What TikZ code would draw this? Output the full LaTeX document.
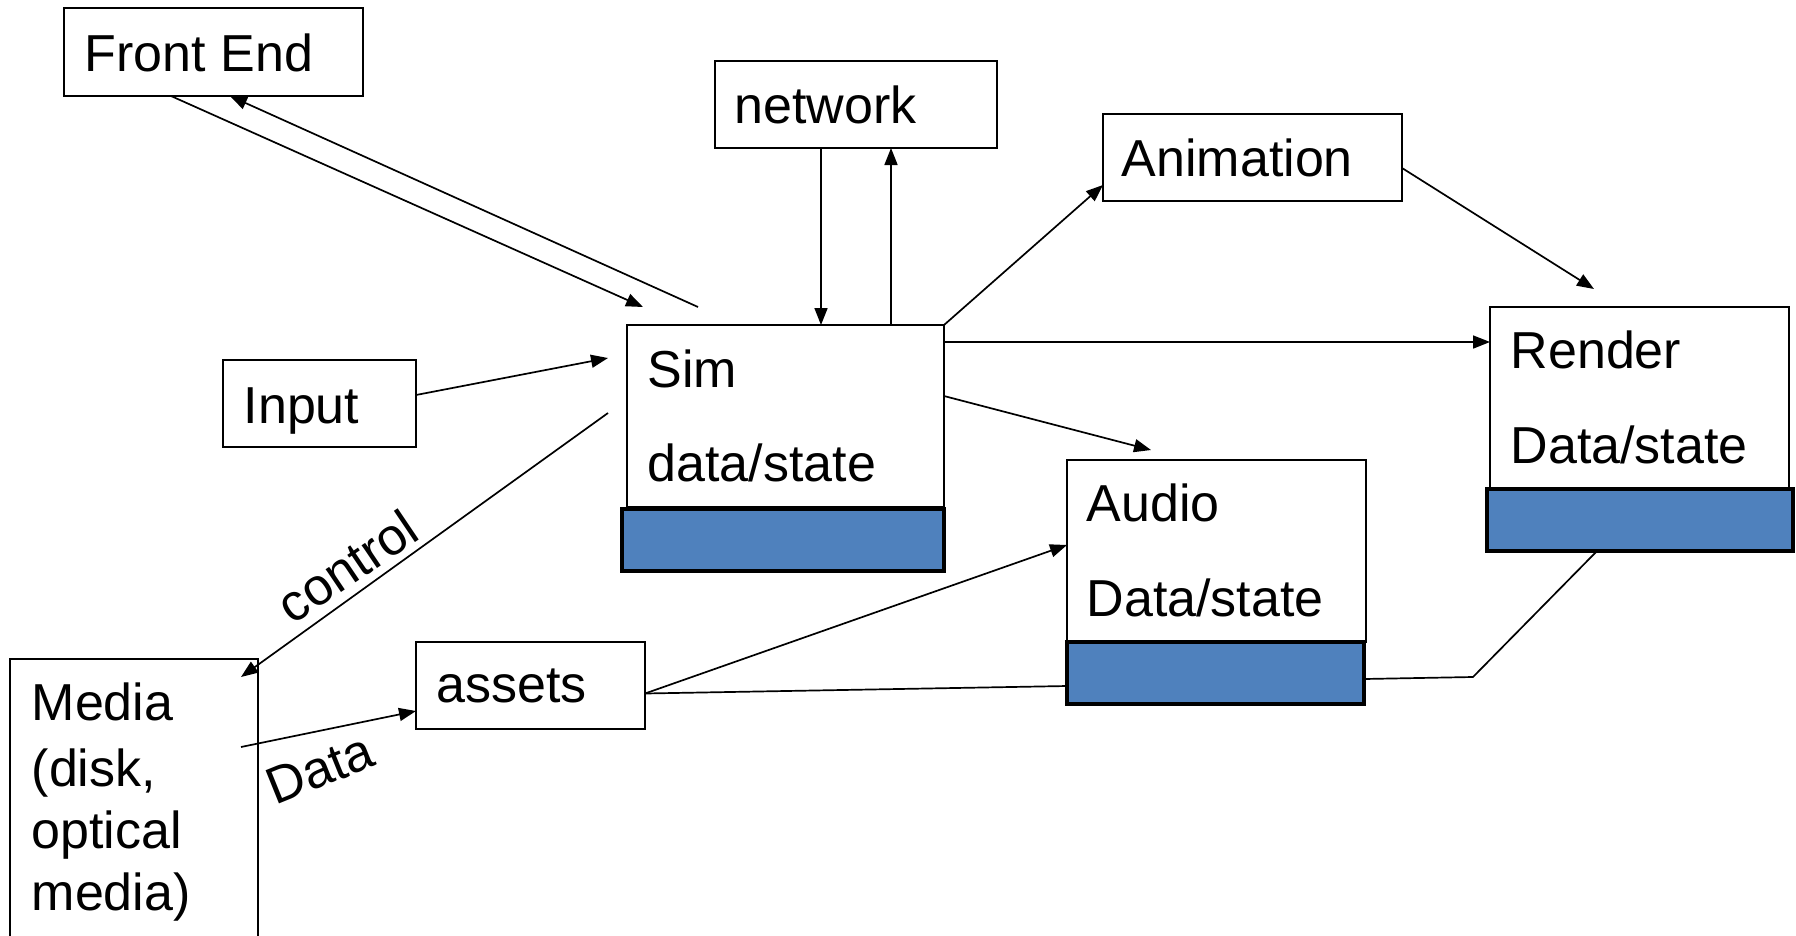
\documentclass[tikz,border=0pt]{standalone}
\usepackage{fontspec}
\setmainfont{Liberation Sans}
\usetikzlibrary{arrows.meta,calc}
\definecolor{barblue}{RGB}{79,129,189}
\begin{document}
\begin{tikzpicture}[x=1pt,y=-1pt,
  box/.style={draw=black,line width=2pt,fill=white,inner sep=0pt,outer sep=0pt,anchor=north west},
  bar/.style={draw=black,line width=3.5pt,fill=barblue,inner sep=0pt,outer sep=0pt,anchor=north west},
  lbl/.style={anchor=base west,inner sep=0pt,xshift=-2.5pt,font=\fontsize{52}{62}\selectfont},
  conn/.style={line width=1.7pt},
  arr/.style={conn,-{Triangle[length=17pt,width=13pt]}},
]
\useasboundingbox (0,0) rectangle (1796,935);
\clip (0,0) rectangle (1796,935);

% boxes
\node[box,minimum width=299,minimum height=88] (fe) at (64,8) {};
\node[box,minimum width=282,minimum height=87] (net) at (715,61) {};
\node[box,minimum width=299,minimum height=87] (anim) at (1103,114) {};
\node[box,minimum width=193,minimum height=87] (input) at (223,360) {};
\node[box,minimum width=317,minimum height=182] (sim) at (627,325) {};
\node[bar,minimum width=322,minimum height=62] (simbar) at (622,509) {};
\node[box,minimum width=299,minimum height=182] (render) at (1490,307) {};
\node[bar,minimum width=306,minimum height=62] (renderbar) at (1487,489) {};
\node[box,minimum width=299,minimum height=182] (audio) at (1067,460) {};
\node[bar,minimum width=297,minimum height=62] (audiobar) at (1067,642) {};
\node[box,minimum width=229,minimum height=87] (assets) at (416,642) {};
\node[box,minimum width=248,minimum height=340] (media) at (10,659) {};

% texts
\node[lbl] (tfe) at (87,71) {Front End};
\node[lbl] (tnet) at (737,123) {network};
\node[lbl] (tanim) at (1124,176) {Animation};
\node[lbl] (tinput) at (246,423) {Input};
\node[lbl] (tsim1) at (650,387) {Sim};
\node[lbl] (tsim2) at (650,481) {data/state};
\node[lbl] (trender1) at (1513,368) {Render};
\node[lbl] (trender2) at (1513,463) {Data/state};
\node[lbl] (taudio1) at (1089,521) {Audio};
\node[lbl] (taudio2) at (1089,616) {Data/state};
\node[lbl] (tassets) at (439,702) {assets};
\node[lbl] (tmedia1) at (34,720) {Media};
\node[lbl] (tmedia2) at (34,786) {(disk,};
\node[lbl] (tmedia3) at (34,848) {optical};
\node[lbl] (tmedia4) at (34,910) {media)};
\node[font=\fontsize{52}{62}\selectfont,inner sep=0pt,rotate=34] (tcontrol) at (347,566) {control};
\node[font=\fontsize{52}{62}\selectfont,inner sep=0pt,rotate=22] (tdata) at (320,769) {Data};

% free ends of connectors
\coordinate (fein) at (643,307);
\coordinate (feout) at (698,307);
\coordinate (animtip) at (1594,289);
\coordinate (audiotip) at (1151,450);
\coordinate (inputtip) at (608,358);
\coordinate (ctrlstart) at (608,413);
\coordinate (bend) at (1473,677);

% connectors
\draw[arr] ($(fe.south west)+(107,0)$) -- (fein);
\draw[arr] (feout) -- ($(fe.south west)+(166,0)$);
\draw[arr] ($(net.south west)+(106,0)$) -- ($(sim.north west)+(194,0)$);
\draw[arr] ($(sim.north west)+(264,0)$) -- ($(net.south west)+(176,0)$);
\draw[arr] (sim.north east) -- ($(anim.south west)+(0,-16)$);
\draw[arr] ($(anim.north east)+(0,54)$) -- (animtip);
\draw[arr] ($(sim.north east)+(0,17)$) -- ($(render.north west)+(0,35)$);
\draw[arr] ($(sim.north east)+(0,71)$) -- (audiotip);
\draw[arr] ($(input.north east)+(0,35)$) -- (inputtip);
\draw[arr] (ctrlstart) -- ($(media.north east)+(-17,18)$);
\draw[arr] ($(media.north east)+(-17,88)$) -- ($(assets.south west)+(0,-18)$);
\draw[arr] ($(assets.east)+(0,8)$) -- ($(audio.north west)+(0,85)$);
\draw[conn] ($(assets.east)+(0,8)$) -- ($(audiobar.west)+(0,13)$);
\draw[conn] ($(audiobar.east)+(0,6)$) -- (bend) -- ($(renderbar.south west)+(110,0)$);
\end{tikzpicture}
\end{document}
